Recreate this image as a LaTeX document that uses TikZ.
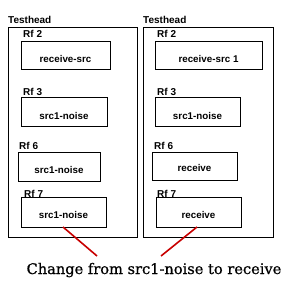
\documentclass[tikz,border=0pt]{standalone}
\usepackage{fontspec}
\newfontfamily\labfont{Liberation Sans}
\newfontfamily\capfont[FakeBold=0.7]{DejaVu Serif}
\begin{document}
\begin{tikzpicture}[x=1pt,y=-1pt,
  outerbox/.style={draw=black,line width=1pt,inner sep=0pt,outer sep=0pt,anchor=north west},
  rfbox/.style={draw=black,line width=1pt,inner sep=0pt,outer sep=0pt,anchor=north west},
  lbl/.style={anchor=base west,inner sep=0pt,font=\labfont\bfseries\fontsize{10}{11}\selectfont},
  boxtxt/.style={inner sep=0pt,font=\labfont\bfseries\fontsize{9.8}{11}\selectfont},
  redline/.style={draw={rgb,255:red,200;green,0;blue,0},line width=1.6pt}]
\useasboundingbox (0,0) rectangle (289,283);
% left column
\node[lbl] (th1) at (8,24) {Testhead};
\node[outerbox,minimum width=129pt,minimum height=209pt] (o1) at (8,28) {};
\node[lbl] (l12) at (23,38) {Rf 2};
\node[rfbox,minimum width=89pt,minimum height=28pt] (b12) at (21,42) {};
\node[boxtxt] (t12) at ([yshift=-3pt]b12.center) {receive-src};
\node[lbl] (l13) at (23,96) {Rf 3};
\node[rfbox,minimum width=86pt,minimum height=29pt] (b13) at (21,98) {};
\node[boxtxt] (t13) at ([yshift=-3pt]b13.center) {src1-noise};
\node[lbl] (l16) at (19,150) {Rf 6};
\node[rfbox,minimum width=82pt,minimum height=29pt] (b16) at (18,153) {};
\node[boxtxt] (t16) at ([yshift=-2pt]b16.center) {src1-noise};
\node[lbl] (l17) at (24,197) {Rf 7};
\node[rfbox,minimum width=85pt,minimum height=29pt] (b17) at (21,198) {};
\node[boxtxt] (t17) at ([yshift=-2pt]b17.center) {src1-noise};
% right column
\node[lbl] (th2) at (143,24) {Testhead};
\node[outerbox,minimum width=130pt,minimum height=209pt] (o2) at (143,28) {};
\node[lbl] (l22) at (157,38) {Rf 2};
\node[rfbox,minimum width=107pt,minimum height=28pt] (b22) at (155,42) {};
\node[boxtxt] (t22) at ([yshift=-3pt]b22.center) {receive-src 1};
\node[lbl] (l23) at (157,96) {Rf 3};
\node[rfbox,minimum width=85pt,minimum height=29pt] (b23) at (155,98) {};
\node[boxtxt] (t23) at ([yshift=-3pt]b23.center) {src1-noise};
\node[lbl] (l26) at (154,150) {Rf 6};
\node[rfbox,minimum width=85pt,minimum height=28pt] (b26) at (152,153) {};
\node[boxtxt] (t26) at ([yshift=-1pt]b26.center) {receive};
\node[lbl] (l27) at (157,197) {Rf 7};
\node[rfbox,minimum width=85pt,minimum height=29pt] (b27) at (156,198) {};
\node[boxtxt] (t27) at ([yshift=-2pt]b27.center) {receive};
% caption
\node[inner sep=0pt,anchor=base,font=\capfont\fontsize{14.6}{17}\selectfont] (cap) at (154,274) {Change from src1-noise to receive};
\coordinate (c1) at (97,256);
\coordinate (c2) at (161,256);
\draw[redline] (b17.south -| 63,0) -- (c1);
\draw[redline] (b27.south -| 197,0) -- (c2);
\end{tikzpicture}
\end{document}
